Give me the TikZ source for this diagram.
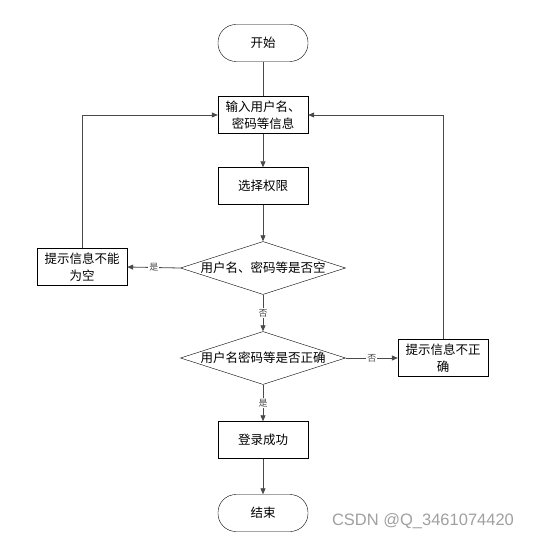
\documentclass[tikz,border=0pt]{standalone}
\usepackage{fontspec}
\usepackage{tikz}
\usetikzlibrary{positioning, arrows.meta, shapes.geometric}
\newfontfamily\cjk{Noto Sans CJK SC}
\newfontfamily\wmfont{Liberation Sans}
\definecolor{lineGray}{HTML}{4a4a4a}
\definecolor{wmGray}{HTML}{a0a0a0}

\begin{document}
\begin{tikzpicture}[x=1pt, y=-1pt, term/.style={draw, rounded corners=18pt, minimum width=90pt, minimum height=37pt, font=\cjk\fontsize{12.5}{17}\selectfont},proc/.style={draw, minimum width=90pt, minimum height=37pt, align=center, inner sep=1pt, font=\cjk\fontsize{12.5}{17}\selectfont},dec/.style={draw, diamond, minimum width=165pt, minimum height=53pt, inner sep=0pt, label={[font=\cjk\fontsize{12.5}{17}\selectfont]center:#1}},arr/.style={-{Triangle[length=6pt, width=5pt]}, color=lineGray, thick},yn/.style={font=\cjk\fontsize{9}{10}\selectfont, fill=white, inner sep=1pt, midway}]
\useasboundingbox (0,0) rectangle (536,540);
\node[term] (start) at (263,43) {开始};
\node[proc] (input) at (263,115) {输入用户名、\\密码等信息};
\node[proc] (select) at (263,186) {选择权限};
\node[dec={用户名、密码等是否空}] (chk1) at (263,268) {};
\node[proc] (warn1) at (82,267) {提示信息不能\\为空};
\node[dec={用户名密码等是否正确}] (chk2) at (263,358) {};
\node[proc] (warn2) at (443,358) {提示信息不正\\确};
\node[proc] (login) at (263,440) {登录成功};
\node[term] (stop) at (263,513) {结束};
\draw[color=lineGray, thick] (start)--(input); \draw[arr] (input)--(select); \draw[arr] (select)--(chk1);
\draw[arr] (chk1.west)--(warn1.east) node[yn] {是};
\draw[arr] (chk1.south)--(chk2.north) node[yn] {否};
\draw[arr] (chk2.east)--(warn2.west) node[yn] {否};
\draw[arr] (chk2.south)--(login.north) node[yn] {是};
\draw[arr] (login)--(stop);
\draw[arr] (warn1.north)|-(input.west); \draw[arr] (warn2.north)|-(input.east);
\node[font=\wmfont\fontsize{16.5}{18}\selectfont, color=wmGray] (wm) at (423,521) {CSDN @Q\_3461074420};
\end{tikzpicture}
\end{document}
